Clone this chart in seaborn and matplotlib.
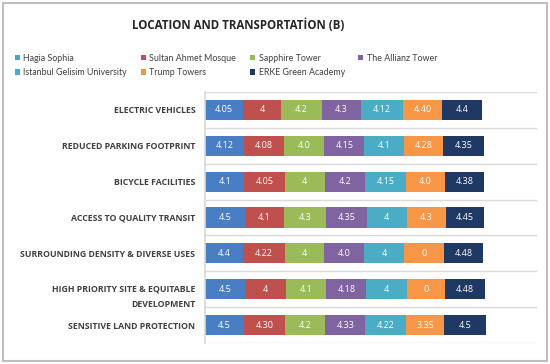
import numpy as np
import pandas as pd
import matplotlib.pyplot as plt
import matplotlib.transforms as mtransforms
import seaborn as sns
from matplotlib.patches import Patch, Rectangle

# categories (top to bottom)
categories = [
    "ELECTRIC VEHICLES",
    "REDUCED PARKING FOOTPRINT",
    "BICYCLE FACILITIES",
    "ACCESS TO QUALITY TRANSIT",
    "SURROUNDING DENSITY & DIVERSE USES",
    "HIGH PRIORITY SITE & EQUITABLE\nDEVELOPMENT",
    "SENSITIVE LAND PROTECTION",
]

sites = ["Hagia Sophia", "Sultan Ahmet Mosque", "Sapphire Tower", "The Allianz Tower",
         "Istanbul Gelisim University", "Trump Towers", "ERKE Green Academy"]

# segment lengths as drawn in the original (roughly equal blocks)
hagia_len = [3.83, 3.93, 3.93, 4.00, 3.83, 4.00, 3.90]
sultan_len = [3.73, 3.90, 4.00, 3.83, 4.13, 4.07, 4.07]
sapphire_len = [4.10, 4.07, 4.00, 4.27, 3.93, 4.03, 4.03]
allianz_len = [3.90, 4.00, 4.07, 4.07, 4.00, 4.00, 3.97]
istanbul_len = [4.17, 3.93, 4.00, 3.93, 4.00, 4.00, 4.10]
trump_len = [3.93, 3.93, 3.93, 3.90, 3.93, 3.83, 3.77]
erke_len = [3.97, 4.07, 3.90, 3.83, 3.90, 3.97, 4.13]

# value labels printed inside the segments
hagia_lbl = ["4.05", "4.12", "4.1", "4.5", "4.4", "4.5", "4.5"]
sultan_lbl = ["4", "4.08", "4.05", "4.1", "4.22", "4", "4.30"]
sapphire_lbl = ["4.2", "4.0", "4", "4.3", "4", "4.1", "4.2"]
allianz_lbl = ["4.3", "4.15", "4.2", "4.35", "4.0", "4.18", "4.33"]
istanbul_lbl = ["4.12", "4.1", "4.15", "4", "4", "4", "4.22"]
trump_lbl = ["4.40", "4.28", "4.0", "4.3", "0", "0", "3.35"]
erke_lbl = ["4.4", "4.35", "4.38", "4.45", "4.48", "4.48", "4.5"]

colors = ["#4A7EC4", "#C0504D", "#9BBB59", "#8064A2", "#4BACC6", "#F79646", "#1F3864"]
legend_colors = ["#4AA3C8", "#C0504D", "#9BBB59", "#8064A2", "#4BACC6", "#F79646", "#1F3864"]

lengths = [hagia_len, sultan_len, sapphire_len, allianz_len, istanbul_len, trump_len, erke_len]
labels = [hagia_lbl, sultan_lbl, sapphire_lbl, allianz_lbl, istanbul_lbl, trump_lbl, erke_lbl]

sns.set_theme(style="white")
plt.rcParams['font.family'] = ['Open Sans', 'DejaVu Sans']

fig = plt.figure(figsize=(5.5, 3.64), dpi=100)
ax = fig.add_axes([0.3727, 0.0577, 0.6036, 0.6896])

df = pd.DataFrame(np.array(lengths).T, columns=sites)
df["category"] = categories
cum = df[sites].cumsum(axis=1)

# stacked bars: draw cumulative totals from the last series backwards
for i in range(len(sites) - 1, -1, -1):
    sns.barplot(x=cum[sites[i]], y=df["category"], color=colors[i], saturation=1,
                orient="h", width=0.56, linewidth=0, ax=ax)

for i, site in enumerate(sites):
    centers = cum[site] - df[site] / 2
    for j, c in enumerate(centers):
        ax.text(c, j, labels[i][j], ha="center", va="center", color="white", fontsize=6.5)

ax.set_xlim(0, 33.1)
ax.set_ylim(len(categories) - 0.5, -0.5)
ax.set_xlabel("")
ax.set_ylabel("")
ax.set_xticks([])
ax.set_yticks(np.arange(-0.5, len(categories), 1), minor=True)
ax.tick_params(axis="y", which="minor", length=0)
ax.set_yticks(range(len(categories)))
ax.set_yticklabels(categories, fontsize=6.3, fontweight="bold", color="#404040",
                   linespacing=1.9)
ax.tick_params(axis="y", length=0, pad=7)
ax.grid(axis="y", which="minor", color="#d9d9d9", linewidth=1)
ax.set_axisbelow(True)
for s in ["top", "right", "bottom"]:
    ax.spines[s].set_visible(False)
ax.spines["left"].set_color("#d9d9d9")

# two-line label: first line sits level with its bar
for lab in ax.get_yticklabels():
    if "\n" in lab.get_text():
        lab.set_transform(lab.get_transform() +
                          mtransforms.ScaledTranslation(0, -2.5 / 72, fig.dpi_scale_trans))

fig.text(0.433, 0.93, "LOCATION AND TRANSPORTATİON (B)", ha="center", va="center",
         fontsize=8.3, fontweight="bold", color="#262626")

order = [0, 4, 1, 5, 2, 6, 3]
handles = [Patch(facecolor=legend_colors[k], edgecolor="none") for k in order]
names = [sites[k] for k in order]
fig.legend(handles, names, ncol=4, loc="upper left", bbox_to_anchor=(0.012, 0.875),
           frameon=False, handlelength=0.6, handleheight=0.6,
           handletextpad=0.4, columnspacing=1.5, labelspacing=0.65, labelcolor="#404040",
           prop={"family": ["Lato"], "size": 6.4})

fig.patches.append(Rectangle((0.006, 0.008), 0.988, 0.984, transform=fig.transFigure,
                             fill=False, edgecolor="#bfbfbf", linewidth=1.5))

fig.savefig("out.png", dpi=100)
